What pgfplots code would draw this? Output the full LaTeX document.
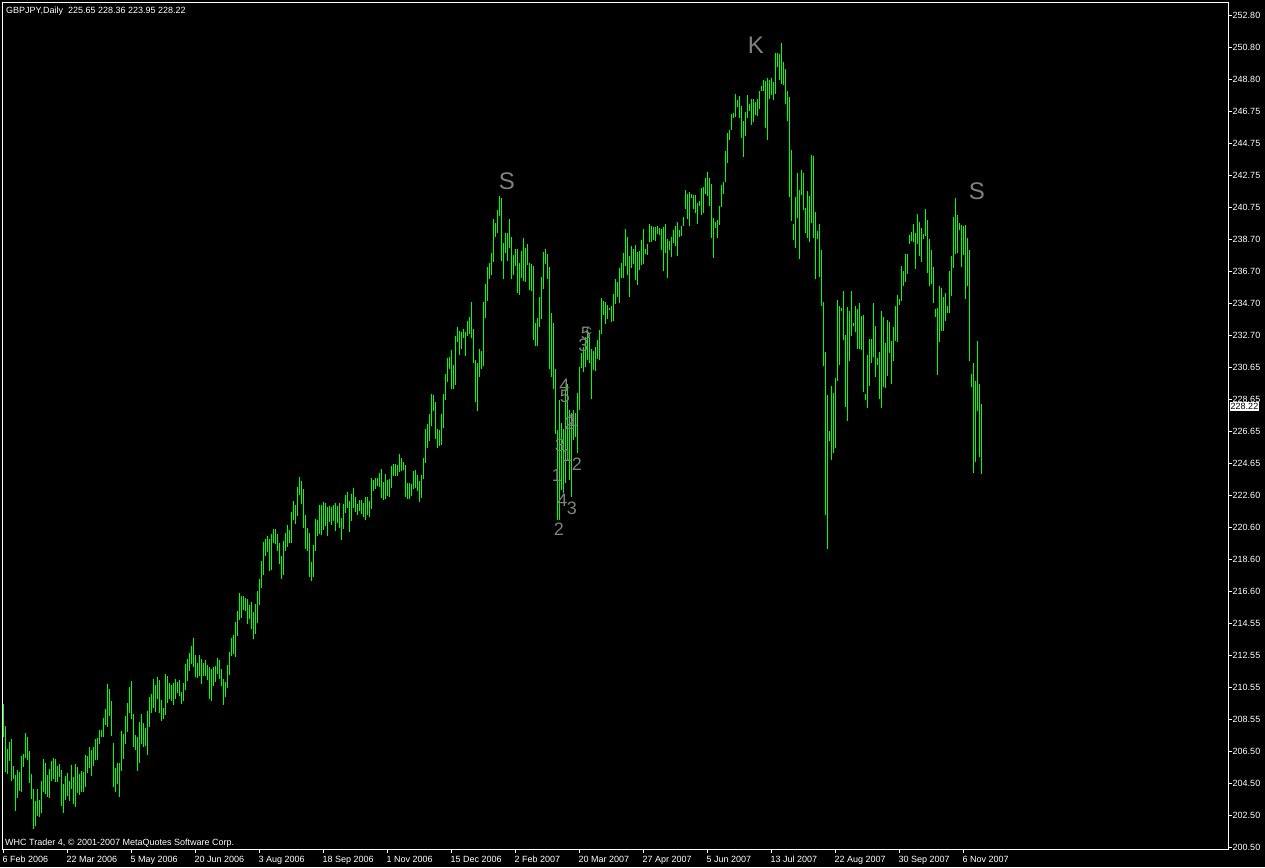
\documentclass[border=0pt]{standalone}
\usepackage{pgfplots}
\pgfplotsset{compat=1.18}
\usepackage{pgfplotstable}
\usetikzlibrary{backgrounds}
\usepackage{fontspec}
\setmainfont{Liberation Sans}
\definecolor{barcol}{RGB}{0,255,0}
\definecolor{anno}{RGB}{128,128,128}

\pgfplotstableread{
k lo hi
0 207.44 209.50
1 205.20 208.12
2 205.08 206.67
3 205.93 207.11
4 204.68 207.30
5 204.78 205.60
6 202.79 205.03
7 203.61 205.35
8 204.03 205.22
9 203.98 206.23
10 205.54 206.35
11 206.12 207.67
12 205.98 207.42
13 204.55 206.54
14 203.54 205.10
15 201.62 204.15
16 201.85 203.40
17 202.48 204.15
18 202.41 203.46
19 202.62 204.66
20 203.94 206.04
21 203.86 205.79
22 203.67 205.03
23 203.61 205.41
24 204.68 205.91
25 204.80 206.10
26 204.57 206.04
27 204.61 205.60
28 204.93 205.73
29 203.11 205.35
30 202.66 204.47
31 203.46 204.97
32 203.73 205.16
33 203.42 204.66
34 204.15 205.66
35 203.23 204.91
36 203.04 205.73
37 203.92 205.54
38 203.80 205.10
39 203.98 205.29
40 203.98 205.22
41 204.30 206.29
42 205.14 206.23
43 205.47 206.79
44 204.99 206.61
45 205.62 206.79
46 205.96 207.30
47 206.00 207.36
48 207.00 207.86
49 207.42 207.86
50 207.44 208.62
51 208.20 209.18
52 208.07 210.76
53 208.72 210.44
54 207.51 209.69
55 204.28 207.05
56 203.98 205.47
57 204.45 205.79
58 203.67 205.79
59 205.31 207.80
60 206.06 207.61
61 207.00 208.75
62 207.76 209.56
63 208.95 210.57
64 208.54 210.95
65 206.82 208.87
66 206.57 207.55
67 205.31 207.42
68 205.81 208.37
69 207.00 208.87
70 206.82 208.31
71 206.88 207.99
72 206.31 209.06
73 208.07 209.94
74 208.95 210.13
75 209.27 211.07
76 209.02 210.70
77 209.79 211.20
78 208.93 211.01
79 208.45 209.75
80 208.58 209.25
81 208.83 211.39
82 209.58 211.26
83 209.79 210.82
84 209.71 210.70
85 209.46 210.82
86 209.79 211.07
87 210.21 210.88
88 210.02 211.01
89 209.52 210.25
90 209.71 210.82
91 210.40 212.02
92 210.97 212.33
93 211.60 212.71
94 212.04 213.15
95 211.85 213.65
96 211.20 212.58
97 211.16 212.08
98 211.28 212.58
99 210.78 212.33
100 211.28 212.08
101 211.28 212.27
102 211.03 211.95
103 209.84 211.83
104 209.71 211.70
105 210.65 211.83
106 210.90 211.89
107 211.41 212.39
108 211.09 212.27
109 210.61 211.70
110 209.46 211.07
111 209.96 210.88
112 210.53 211.95
113 211.34 212.77
114 212.54 213.65
115 212.66 213.84
116 212.48 214.66
117 213.80 215.35
118 214.80 216.48
119 214.93 216.31
120 215.41 216.29
121 215.37 216.17
122 214.55 216.10
123 214.87 215.73
124 214.20 215.90
125 213.60 215.30
126 213.90 215.80
127 214.60 216.60
128 215.72 217.36
129 216.81 218.49
130 217.61 219.68
131 218.82 219.87
132 219.08 220.06
133 217.88 219.87
134 217.94 220.19
135 219.64 220.50
136 219.58 220.50
137 219.14 220.19
138 218.32 219.62
139 217.38 218.80
140 217.63 219.75
141 219.14 220.25
142 219.39 220.75
143 219.64 220.44
144 219.64 221.57
145 221.09 222.26
146 220.84 222.01
147 221.34 223.14
148 222.66 223.77
149 222.09 223.52
150 220.58 223.02
151 219.26 221.38
152 219.14 220.56
153 217.50 220.25
154 217.25 218.43
155 217.50 219.49
156 219.14 221.13
157 220.08 221.07
158 220.21 222.01
159 220.14 222.01
160 220.46 222.20
161 220.71 222.14
162 220.08 221.88
163 220.96 221.95
164 220.77 221.88
165 221.02 222.01
166 220.40 222.14
167 220.90 221.95
168 220.58 222.14
169 219.83 221.19
170 220.52 222.07
171 221.49 222.64
172 221.80 222.83
173 220.33 222.26
174 221.02 222.70
175 221.82 223.08
176 221.55 222.51
177 221.40 222.07
178 221.61 222.32
179 221.46 222.32
180 221.28 222.14
181 221.09 222.51
182 221.40 222.51
183 221.28 222.26
184 221.78 223.71
185 222.91 223.58
186 223.04 223.71
187 223.23 223.71
188 223.16 224.02
189 222.47 224.27
190 222.35 223.46
191 222.41 223.96
192 222.60 223.58
193 222.53 223.65
194 223.10 224.46
195 223.86 224.59
196 223.86 224.59
197 223.86 224.53
198 224.11 225.22
199 224.13 224.97
200 224.23 224.71
201 222.53 224.53
202 222.41 223.39
203 222.41 223.39
204 222.60 223.33
205 223.04 224.15
206 223.10 224.21
207 222.91 223.90
208 222.22 223.52
209 222.47 223.90
210 223.67 224.97
211 224.67 226.79
212 225.62 227.10
213 226.06 227.73
214 227.00 228.99
215 227.94 228.93
216 226.18 228.49
217 225.62 226.79
218 225.74 226.73
219 225.80 227.73
220 226.87 228.99
221 228.63 230.25
222 229.77 231.26
223 230.58 231.32
224 229.28 231.76
225 229.33 230.82
226 229.58 232.64
227 232.28 233.20
228 231.46 232.95
229 231.84 232.89
230 232.51 233.08
231 231.40 232.89
232 232.64 233.58
233 232.79 233.83
234 232.53 234.78
235 230.96 233.08
236 228.51 231.13
237 227.94 230.96
238 230.08 231.82
239 230.58 231.70
240 230.77 234.78
241 233.79 235.91
242 234.86 236.98
243 236.24 237.23
244 236.50 237.86
245 237.31 240.00
246 238.89 239.75
247 239.14 240.57
248 240.21 241.45
249 237.38 241.32
250 236.25 238.49
251 237.88 239.12
252 237.38 239.12
253 238.20 240.00
254 236.25 238.87
255 236.50 237.74
256 237.07 238.11
257 235.37 238.11
258 235.24 237.23
259 236.31 237.99
260 236.12 238.81
261 236.06 238.18
262 237.13 238.43
263 235.56 237.23
264 235.49 237.17
265 232.41 237.07
266 232.03 233.48
267 232.03 233.79
268 233.23 235.12
269 233.73 236.37
270 235.62 237.95
271 237.19 238.11
272 236.21 237.82
273 230.59 236.98
274 230.08 234.07
275 229.33 233.44
276 226.50 230.57
277 221.07 226.73
278 221.07 228.62
279 222.96 227.15
280 222.75 226.79
281 223.38 229.25
282 224.84 229.62
283 223.59 227.99
284 222.54 227.78
285 226.10 227.99
286 226.31 227.78
287 225.30 229.08
288 227.99 230.71
289 230.61 231.55
290 230.36 231.93
291 230.71 232.60
292 231.13 233.02
293 230.92 232.60
294 228.70 231.85
295 230.50 231.68
296 230.46 231.95
297 231.22 232.39
298 231.15 233.00
299 232.77 235.03
300 233.98 234.86
301 233.42 234.80
302 233.73 234.59
303 234.28 234.42
304 233.54 234.53
305 233.56 235.30
306 234.68 236.23
307 235.07 236.04
308 234.70 236.92
309 236.31 237.23
310 236.31 237.88
311 237.07 239.37
312 236.50 238.87
313 235.12 237.69
314 236.92 238.30
315 237.17 238.13
316 236.16 238.37
317 235.87 237.95
318 236.81 238.01
319 237.13 238.68
320 237.17 239.35
321 237.78 238.11
322 237.76 238.43
323 238.57 239.69
324 238.57 239.58
325 238.66 239.52
326 238.64 239.50
327 239.06 239.56
328 238.99 239.43
329 238.05 239.37
330 236.75 239.52
331 237.88 239.69
332 236.31 238.72
333 238.05 238.60
334 237.63 238.87
335 238.51 239.33
336 238.30 239.58
337 237.69 239.79
338 238.87 239.31
339 238.93 239.56
340 239.58 240.15
341 240.65 241.82
342 240.02 241.57
343 239.58 241.68
344 241.34 241.57
345 240.65 241.53
346 240.40 241.51
347 239.66 241.01
348 240.80 241.11
349 240.27 241.97
350 240.40 242.01
351 241.57 242.60
352 241.47 242.96
353 240.84 242.58
354 238.83 242.18
355 237.57 240.04
356 239.43 239.79
357 238.83 239.94
358 239.64 240.84
359 240.78 242.14
360 241.59 242.33
361 242.31 244.30
362 243.50 245.41
363 244.97 245.58
364 245.60 246.60
365 246.35 246.67
366 246.40 247.85
367 247.05 247.50
368 246.37 247.74
369 245.10 247.10
370 243.91 246.18
371 245.23 246.71
372 246.37 247.80
373 246.78 247.20
374 245.93 247.54
375 246.12 247.54
376 246.52 247.35
377 246.50 247.54
378 246.90 248.07
379 248.05 248.33
380 248.05 248.73
381 245.74 248.67
382 244.95 248.84
383 247.56 248.73
384 247.82 248.84
385 247.50 248.61
386 247.88 250.43
387 249.54 250.43
388 248.73 250.37
389 248.48 251.07
390 248.44 249.86
391 247.20 249.43
392 246.16 248.05
393 241.36 247.67
394 239.87 244.33
395 238.70 239.68
396 238.19 241.38
397 240.04 242.89
398 237.51 241.82
399 241.50 243.08
400 240.55 242.89
401 239.12 240.67
402 238.80 241.76
403 238.53 241.44
404 239.76 244.01
405 238.83 243.95
406 236.23 240.44
407 238.76 239.23
408 236.36 239.68
409 234.53 238.04
410 230.77 234.76
411 221.41 231.62
412 219.22 228.94
413 226.05 226.68
414 224.81 229.49
415 225.26 229.04
416 225.60 229.98
417 229.83 234.91
418 230.79 234.51
419 234.19 234.40
420 232.36 235.49
421 228.15 232.70
422 227.30 234.45
423 231.09 234.23
424 232.66 235.47
425 233.25 233.47
426 232.91 234.51
427 231.85 234.34
428 231.85 234.70
429 231.77 233.89
430 229.09 233.96
431 228.60 228.98
432 228.13 231.43
433 229.51 232.47
434 230.94 232.47
435 231.32 234.70
436 230.07 233.25
437 230.83 231.26
438 228.70 231.62
439 228.13 234.21
440 229.43 233.81
441 229.38 232.21
442 230.11 233.66
443 231.58 233.53
444 229.64 232.32
445 231.09 233.19
446 232.34 234.51
447 232.26 235.19
448 234.59 234.96
449 234.83 237.04
450 235.81 236.72
451 236.04 237.78
452 236.51 237.78
453 238.42 239.02
454 238.59 239.17
455 238.53 239.70
456 236.87 239.12
457 238.42 240.31
458 237.68 239.80
459 237.32 239.40
460 238.76 239.06
461 238.91 240.61
462 236.57 239.93
463 235.76 238.76
464 235.89 238.04
465 234.74 236.98
466 233.83 234.36
467 230.19 234.40
468 232.28 235.78
469 232.96 235.64
470 232.96 235.08
471 233.55 235.34
472 234.08 234.53
473 234.08 236.72
474 235.15 237.66
475 236.93 240.12
476 237.78 241.31
477 237.85 240.25
478 239.31 239.74
479 237.00 239.63
480 237.72 239.55
481 234.98 239.61
482 235.81 238.83
483 231.04 238.04
484 229.41 230.26
485 224.03 230.94
486 224.73 229.83
487 227.90 232.32
488 225.03 229.62
489 223.95 228.36
}\bars

\begin{document}
\begin{tikzpicture}[x=1pt,y=1pt]
\begin{axis}[
  name=ax,
  scale only axis, width=1225.7pt, height=846.7pt,
  xmin=-0.52, xmax=612.3, ymin=200.375, ymax=253.625,
  clip=false,
  axis line style={white, line width=1pt},
  tick style={white, line width=1pt},
  major tick length=4pt,
  tick align=outside,
  xtick pos=bottom, ytick pos=right,
  yticklabel pos=right,
  tick label style={text=white, font=\fontsize{9}{10}\selectfont},
  xtick={0,32,64,96,128,160,192,224,256,288,320,352,384,416,448,480},
  xticklabels={6 Feb 2006,22 Mar 2006,5 May 2006,20 Jun 2006,3 Aug 2006,18 Sep 2006,1 Nov 2006,15 Dec 2006,2 Feb 2007,20 Mar 2007,27 Apr 2007,5 Jun 2007,13 Jul 2007,22 Aug 2007,30 Sep 2007,6 Nov 2007},
  xticklabel style={anchor=north west, inner sep=0pt, yshift=-3pt, xshift=-1pt},
  ytick={200.50,202.51,204.52,206.53,208.55,210.56,212.57,214.58,216.59,218.60,220.62,222.63,224.64,226.65,228.66,230.67,232.68,234.70,236.71,238.72,240.73,242.74,244.75,246.77,248.78,250.79,252.80},
  yticklabels={200.50,202.50,204.50,206.50,208.55,210.55,212.55,214.55,216.60,218.60,220.60,222.60,224.65,226.65,228.65,230.65,232.70,234.70,236.70,238.70,240.75,242.75,244.75,246.75,248.80,250.80,252.80},
  yticklabel style={anchor=west, inner sep=0pt, xshift=0.5pt},
  /pgf/number format/assume math mode=true,
]
\addplot[draw=none, mark=none,
  error bars/.cd, y dir=plus, y explicit, error mark=none,
  error bar style={draw=barcol, line width=1pt}]
  table[x=k, y=lo, y error expr=\thisrow{hi}-\thisrow{lo}] {\bars};

% annotations
\node[text=anno, font=\fontsize{24}{24}\selectfont] at (axis cs:251.7,242.34) {S};
\node[text=anno, font=\fontsize{24}{24}\selectfont] at (axis cs:376.3,250.90) {K};
\node[text=anno, font=\fontsize{24}{24}\selectfont] at (axis cs:486.7,241.74) {S};
\begin{scope}[every node/.style={text=anno, font=\fontsize{18}{18}\selectfont, inner sep=0pt}]
\node at (axis cs:290.0,232.07) {3};
\node at (axis cs:291.3,232.81) {5};
\node[font=\fontsize{12}{12}\selectfont] at (axis cs:292.8,232.95) {c};
\node at (axis cs:280.5,229.56) {4};
\node at (axis cs:280.8,228.86) {5};
\node at (axis cs:283.0,227.15) {2};
\node at (axis cs:284.7,227.36) {1};
\node at (axis cs:278.3,225.78) {3};
\node at (axis cs:282.0,225.15) {1};
\node at (axis cs:286.7,224.57) {2};
\node at (axis cs:276.7,223.90) {1};
\node at (axis cs:279.5,222.32) {4};
\node at (axis cs:284.2,221.80) {3};
\node at (axis cs:277.8,220.48) {2};
\end{scope}
\coordinate (cp) at (axis cs:612.3,228.22);
\coordinate (axll) at (rel axis cs:0,0);
\end{axis}
\coordinate (O) at ([shift={(-2.3pt,-18pt)}]axll);
\begin{scope}[on background layer]
\fill[black] (O) rectangle ++(1265pt,867pt);
\end{scope}
\node[anchor=west, fill=white, text=black, inner sep=1pt, minimum height=9pt,
      font=\fontsize{9}{10}\selectfont, xshift=1.5pt] at (cp) {228.22};
\node[anchor=base west, inner sep=0pt, text=white, font=\fontsize{9}{10}\selectfont]
  at ([shift={(6pt,853pt)}]O) {GBPJPY,Daily\ \ 225.65 228.36 223.95 228.22};
\node[anchor=base west, inner sep=0pt, text=white, font=\fontsize{9}{10}\selectfont]
  at ([shift={(5pt,22pt)}]O) {WHC Trader 4, © 2001-2007 MetaQuotes Software Corp.};
\pgfresetboundingbox
\useasboundingbox (O) rectangle ++(1265pt,867pt);
\end{tikzpicture}
\end{document}
